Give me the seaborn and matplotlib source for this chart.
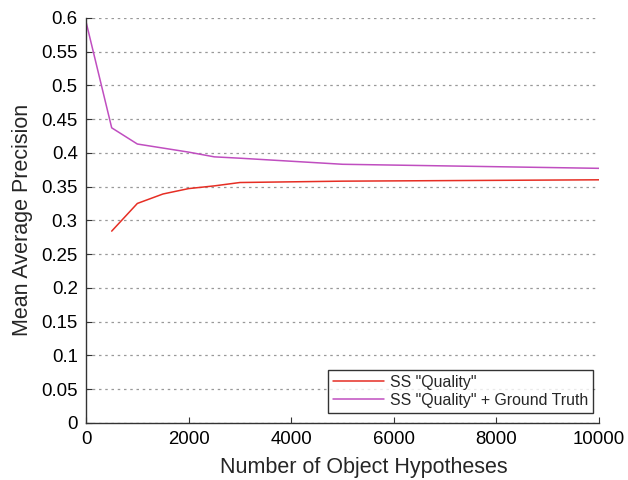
"""Mean average precision vs. number of object hypotheses."""
import matplotlib
matplotlib.use("Agg")
import matplotlib.pyplot as plt
import pandas as pd
import seaborn as sns

quality_x = [500, 1000, 1500, 2000, 2500, 3000, 5000, 10000]
quality_map = [0.284, 0.325, 0.339, 0.347, 0.351, 0.356, 0.358, 0.360]

gt_x = [0, 500, 1000, 1500, 2000, 2500, 3000, 5000, 10000]
gt_map = [0.594, 0.437, 0.413, 0.407, 0.401, 0.394, 0.392, 0.383, 0.377]

series_labels = ['SS "Quality"', 'SS "Quality" + Ground Truth']

df = pd.concat([
    pd.DataFrame({"x": quality_x, "y": quality_map, "series": series_labels[0]}),
    pd.DataFrame({"x": gt_x, "y": gt_map, "series": series_labels[1]}),
])

sns.set_style("white")
plt.rcParams["font.family"] = ["Liberation Sans", "DejaVu Sans"]

fig = plt.figure(figsize=(6.28, 4.8), dpi=100)
ax = fig.add_axes([0.137, 0.119, 0.817, 0.844])

sns.lineplot(
    data=df, x="x", y="y", hue="series", ax=ax,
    palette={series_labels[0]: "#e62e24", series_labels[1]: "#c04ec0"},
    linewidth=1.1, sort=False,
)

ax.set_xlim(0, 10000)
ax.set_ylim(0, 0.6)
ax.set_xticks(range(0, 10001, 2000))
ax.set_yticks([i * 0.05 for i in range(13)])
ax.set_yticklabels(["0", "0.05", "0.1", "0.15", "0.2", "0.25", "0.3", "0.35",
                    "0.4", "0.45", "0.5", "0.55", "0.6"])
ax.yaxis.grid(True, linestyle=(0, (2, 3)), color="#999999", linewidth=0.9)
ax.xaxis.grid(False)
for side in ("top", "right"):
    ax.spines[side].set_visible(False)
for side in ("left", "bottom"):
    ax.spines[side].set_color("#333333")
    ax.spines[side].set_linewidth(1.0)
ax.tick_params(direction="in", length=4, width=0.8, colors="#333333",
               labelcolor="black", labelsize=13.4, left=True, bottom=True,
               pad=6)

ax.set_xlabel("Number of Object Hypotheses", fontsize=15.5)
ax.xaxis.set_label_coords(0.541, -0.085)
ax.set_ylabel("Mean Average Precision", fontsize=15.5, labelpad=6)

leg = ax.legend(loc="lower right", bbox_to_anchor=(0.988, 0.025),
                borderaxespad=0, fontsize=11.4, frameon=True, fancybox=False,
                handlelength=3.2, handletextpad=0.4,
                borderpad=0.3, labelspacing=0.22, title=None)
leg.get_frame().set_edgecolor("black")
leg.get_frame().set_linewidth(1.0)

fig.savefig("out.png", dpi=100)
plt.close(fig)
